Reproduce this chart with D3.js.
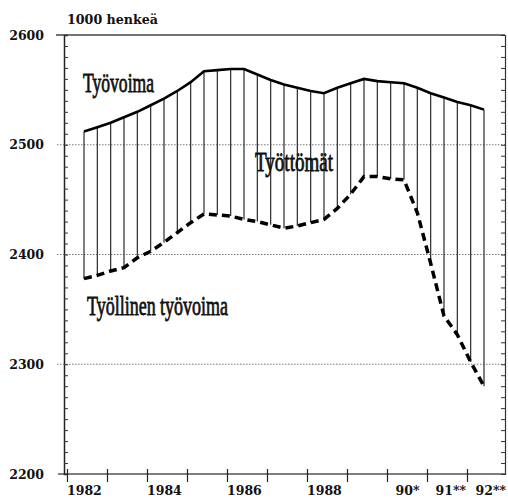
<!DOCTYPE html>
<html>
<head>
<meta charset="utf-8">
<script src="https://cdn.jsdelivr.net/npm/d3@7"></script>
<style>
  html, body { margin: 0; padding: 0; background: #fff; }
  svg { display: block; }
</style>
</head>
<body>
<div id="chart"></div>
<script>
// periods: year / third of year
const periods = [
  '1982/1', '1982/2', '1982/3', '1983/1', '1983/2', '1983/3', '1984/1', '1984/2', '1984/3',
  '1985/1', '1985/2', '1985/3', '1986/1', '1986/2', '1986/3', '1987/1', '1987/2', '1987/3',
  '1988/1', '1988/2', '1988/3', '1989/1', '1989/2', '1989/3', '1990/1', '1990/2', '1990/3',
  '1991/1', '1991/2', '1991/3', '1992/1'
];
// Työvoima (1000 henkeä)
const labourForce = [
  2512, 2516, 2520, 2525, 2530, 2536, 2542, 2549, 2557,
  2567, 2568, 2569, 2569, 2564, 2559, 2555, 2552, 2549,
  2547, 2552, 2556, 2560, 2558, 2557, 2556, 2552, 2547,
  2543, 2539, 2536, 2532
];
// Työllinen työvoima
const employed = [
  2378, 2381, 2385, 2388, 2397, 2403, 2411, 2420, 2429,
  2437, 2436, 2435, 2432, 2430, 2427, 2424, 2426, 2429,
  2432, 2442, 2455, 2471, 2471, 2469, 2468, 2438, 2392,
  2344, 2327, 2302, 2280
];
const yearTicks = [1982, 1983, 1984, 1985, 1986, 1987, 1988, 1989, 1990, 1991, 1992];
const yearLabels = [
  { year: 1982, text: '1982' }, { year: 1984, text: '1984' }, { year: 1986, text: '1986' },
  { year: 1988, text: '1988' }, { year: 1990, text: '90*' }, { year: 1991, text: '91**' },
  { year: 1992, text: '92**' }
];
const yMajor = [2200, 2300, 2400, 2500, 2600];

const W = 508, H = 498;
const svg = d3.select('#chart').append('svg').attr('width', W).attr('height', H);

const x = d3.scaleLinear().domain([1981.5, 1992.525]).range([64, 505]);
const y = d3.scaleLinear().domain([2200, 2600]).range([474, 35]);
const tPos = p => { const [yr, k] = p.split('/').map(Number); return yr + (k - 1) / 3; };

const data = periods.map((p, i) => ({ t: tPos(p), hi: labourForce[i], lo: employed[i] }));

const labelFont = 'DejaVu Serif, serif';

// grid lines
svg.append('g').selectAll('line').data([2300, 2400, 2500]).join('line')
  .attr('x1', 57).attr('x2', 505).attr('y1', d => y(d)).attr('y2', d => y(d))
  .attr('stroke', '#777').attr('stroke-width', 1).attr('stroke-dasharray', '1.5,1.5');
svg.append('line').attr('x1', 56).attr('x2', 505).attr('y1', y(2600)).attr('y2', y(2600))
  .attr('stroke', '#444').attr('stroke-width', 1.5);
svg.append('line').attr('x1', 58).attr('x2', 505).attr('y1', y(2200)).attr('y2', y(2200))
  .attr('stroke', '#555').attr('stroke-width', 1.3);

// left / right axes with inner minor ticks
const minor = d3.range(2200, 2601, 10);
svg.append('g').attr('transform', `translate(${x(1981.5)},0)`)
  .call(d3.axisRight(y).tickValues(minor).tickSize(4).tickFormat(''))
  .call(g => g.select('.domain').attr('stroke', '#222').attr('stroke-width', 1.5))
  .call(g => g.selectAll('.tick line').attr('stroke', '#333'));
svg.append('g').attr('transform', `translate(${x(1992.525)},0)`)
  .call(d3.axisLeft(y).tickValues(minor).tickSize(4).tickFormat(''))
  .call(g => g.select('.domain').attr('stroke', '#333').attr('stroke-width', 1.2))
  .call(g => g.selectAll('.tick line').attr('stroke', '#333'));

// y labels
svg.append('g').selectAll('text').data(yMajor).join('text')
  .attr('x', 44).attr('y', d => y(d)).attr('dy', '0.36em')
  .attr('text-anchor', 'end').attr('font-family', labelFont).attr('font-weight', 'bold')
  .attr('font-size', 12.5).attr('fill', '#111').text(d => d);

svg.append('text').attr('x', 67).attr('y', 24).attr('font-family', labelFont)
  .attr('font-weight', 'bold').attr('font-size', 12).attr('fill', '#111')
  .attr('textLength', 91).attr('lengthAdjust', 'spacingAndGlyphs').text('1000 henkeä');

// bottom axis ticks
svg.append('g').attr('transform', `translate(0,${y(2200)})`)
  .call(d3.axisBottom(x).tickValues(yearTicks.map(d => d - 0.425)).tickSize(8).tickFormat(''))
  .call(g => g.select('.domain').remove())
  .call(g => g.selectAll('.tick line').attr('y1', -5).attr('stroke', '#222').attr('stroke-width', 1.2));

svg.append('g').selectAll('text').data(yearLabels).join('text')
  .attr('x', d => x(d.year) - (d.text.length >= 4 && d.text[0] === '1' ? 17 : 8.5))
  .attr('y', 495).attr('font-family', labelFont).attr('font-weight', 'bold')
  .attr('font-size', 12.5).attr('fill', '#111').text(d => d.text);

// vertical lines between series
svg.append('g').selectAll('line').data(data).join('line')
  .attr('x1', d => x(d.t)).attr('x2', d => x(d.t))
  .attr('y1', d => y(d.hi)).attr('y2', d => y(d.lo))
  .attr('stroke', '#2a2a2a').attr('stroke-width', 1.2);

// series lines
svg.append('path').datum(data)
  .attr('d', d3.line().x(d => x(d.t)).y(d => y(d.hi)))
  .attr('fill', 'none').attr('stroke', '#000').attr('stroke-width', 2.6);
svg.append('path').datum(data)
  .attr('d', d3.line().x(d => x(d.t)).y(d => y(d.lo)))
  .attr('fill', 'none').attr('stroke', '#000').attr('stroke-width', 3.5)
  .attr('stroke-dasharray', '8,5');

// series labels
const seriesLabels = [
  { text: 'Työvoima', x: 83, y: 92, w: 71 },
  { text: 'Työttömät', x: 255, y: 171, w: 78 },
  { text: 'Työllinen työvoima', x: 87, y: 315, w: 141 }
];
svg.append('g').selectAll('text').data(seriesLabels).join('text')
  .attr('x', d => d.x).attr('y', d => d.y)
  .attr('font-family', 'Liberation Serif, serif').attr('font-size', 27)
  .attr('fill', '#111').attr('stroke', '#111').attr('stroke-width', 0.8)
  .attr('textLength', d => d.w).attr('lengthAdjust', 'spacingAndGlyphs')
  .text(d => d.text);
</script>
</body>
</html>
